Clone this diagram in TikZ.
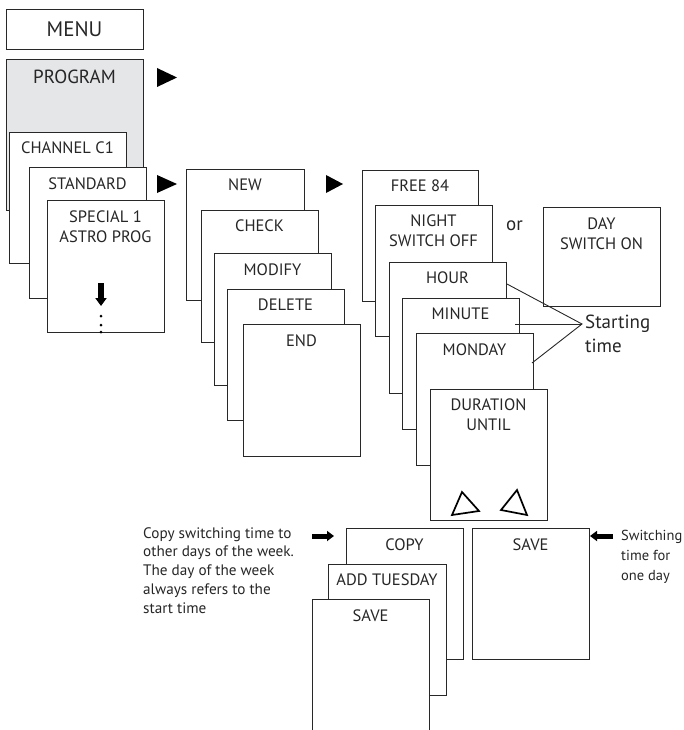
\documentclass[tikz,border=0pt]{standalone}
\usepackage{fontspec}
\setmainfont{PT Sans}
\usetikzlibrary{arrows.meta}
\definecolor{progfill}{RGB}{229,230,232}
\definecolor{lineclr}{RGB}{40,40,40}
\begin{document}
\begin{tikzpicture}[x=1pt,y=-1pt,
  card/.style={draw=lineclr, fill=white, line width=0.8pt, anchor=north west, inner sep=0pt, outer sep=0pt, minimum width=117pt, minimum height=131pt},
  boxtxt/.style={font=\fontsize{16.5}{20}\selectfont, align=center, anchor=center, inner sep=0pt, text=black!85},
  note/.style={font=\fontsize{15.2}{18.8}\selectfont, align=left, anchor=north west, inner sep=0pt, text=black!85},
  playtri/.style={fill=black},
  bigarrow/.style={line width=5pt, -{Triangle[length=7pt,width=10pt]}},
  outtri/.style={draw=black, line width=1.7pt, line join=miter}
]
\useasboundingbox (0,0) rectangle (684,730);

% MENU
\node[card, minimum width=137pt, minimum height=40pt] (menu) at (6,9) {};
\node[boxtxt, font=\fontsize{21}{24}\selectfont] (menut) at (74.5,29) {MENU};

% left column
\node[card, fill=progfill, minimum width=137pt, minimum height=151pt] (prog) at (6,59) {};
\node[boxtxt, font=\fontsize{19}{22}\selectfont] (progt) at (74.5,77) {PROGRAM};
\node[card] (chan) at (9,132) {};
\node[boxtxt] (chant) at (67.5,148) {CHANNEL C1};
\node[card] (std) at (29,167) {};
\node[boxtxt] (stdt) at (87.5,184) {STANDARD};
\node[card, minimum height=132pt] (spec) at (47,200) {};
\node[boxtxt] (spect) at (105.5,227) {SPECIAL 1\\ASTRO PROG};
\coordinate (dnA) at (101,283);
\coordinate (dnB) at (101,306);
\draw[line width=6.5pt, -{Triangle[length=8pt,width=11pt]}] (dnA) -- (dnB);
\foreach \yy in {316,325,332} \fill[black] (101,\yy) circle (1.5pt);

% triangles
\fill[playtri] (157,68) -- (157,87) -- (177,77.5) -- cycle;
\fill[playtri] (157,175) -- (157,193) -- (177,184) -- cycle;
\fill[playtri] (326,175) -- (326,193) -- (343,184) -- cycle;

% second column
\node[card, minimum width=118pt] (new) at (186,169) {};
\node[boxtxt] (newt) at (245,185) {NEW};
\node[card, minimum height=132pt] (chk) at (201,210) {};
\node[boxtxt] (chkt) at (259.5,226) {CHECK};
\node[card, minimum height=132pt] (mod) at (214,253) {};
\node[boxtxt] (modt) at (272.5,270) {MODIFY};
\node[card] (del) at (227,289) {};
\node[boxtxt] (delt) at (285.5,305) {DELETE};
\node[card, minimum height=132pt] (endb) at (243,324) {};
\node[boxtxt] (endt) at (301.5,341) {END};

% third column
\node[card, minimum width=116pt] (free) at (362,170) {};
\node[boxtxt] (freet) at (420,186) {FREE 84};
\node[card] (night) at (375,205) {};
\node[boxtxt] (nightt) at (433.5,231) {NIGHT\\SWITCH OFF};
\node[card] (hour) at (389,262) {};
\node[boxtxt] (hourt) at (447.5,278) {HOUR};
\node[card] (minb) at (402,298) {};
\node[boxtxt] (mint) at (460.5,314) {MINUTE};
\node[card, minimum height=132pt] (mon) at (416,333) {};
\node[boxtxt] (mont) at (474.5,350) {MONDAY};
\node[card] (dur) at (430,389) {};
\node[boxtxt] (durt) at (488.5,415) {DURATION\\UNTIL};
\draw[outtri] (452,515) -- (462,492) -- (479,511) -- cycle;
\draw[outtri] (501,510) -- (517,490) -- (527,515) -- cycle;

\node[font=\fontsize{19}{22}\selectfont, anchor=base west, inner sep=0pt, text=black!85] (or) at (506,230) {or};
\node[card, minimum height=99pt] (day) at (543,207) {};
\node[boxtxt] (dayt) at (601.5,234) {DAY\\SWITCH ON};

% starting time
\coordinate (st) at (582,324);
\coordinate (hourR) at (507,284);
\coordinate (minR) at (515,324);
\coordinate (monR) at (532,363);
\draw[line width=0.9pt, lineclr] (hourR) -- (st) -- (monR);
\draw[line width=0.9pt, lineclr] (minR) -- (st);
\node[font=\fontsize{19}{24}\selectfont, align=left, anchor=north west, inner sep=0pt, text=black!85] (stt) at (585,315) {Starting\\time};

% bottom
\node[note] (copynote) at (143,527) {Copy switching time to\\other days of the week.\\The day of the week\\always refers to the\\start time};
\coordinate (raA) at (312,536);
\coordinate (raB) at (334,536);
\draw[bigarrow] (raA) -- (raB);
\node[card] (copy) at (346,528) {};
\node[boxtxt] (copyt) at (404.5,545) {COPY};
\node[card, minimum width=118pt] (addt) at (328,564) {};
\node[boxtxt] (addtt) at (387,580) {ADD TUESDAY};
\node[card, minimum height=150pt] (save1) at (312,599) {};
\node[boxtxt] (save1t) at (370.5,616) {SAVE};

\node[card] (save2) at (472,528) {};
\node[boxtxt] (save2t) at (530.5,545) {SAVE};
\coordinate (laA) at (613,536);
\coordinate (laB) at (590,536);
\draw[bigarrow] (laA) -- (laB);
\node[note, font=\fontsize{14.5}{20}\selectfont] (swnote) at (621,530) {Switching\\time for\\one day};
\end{tikzpicture}
\end{document}
